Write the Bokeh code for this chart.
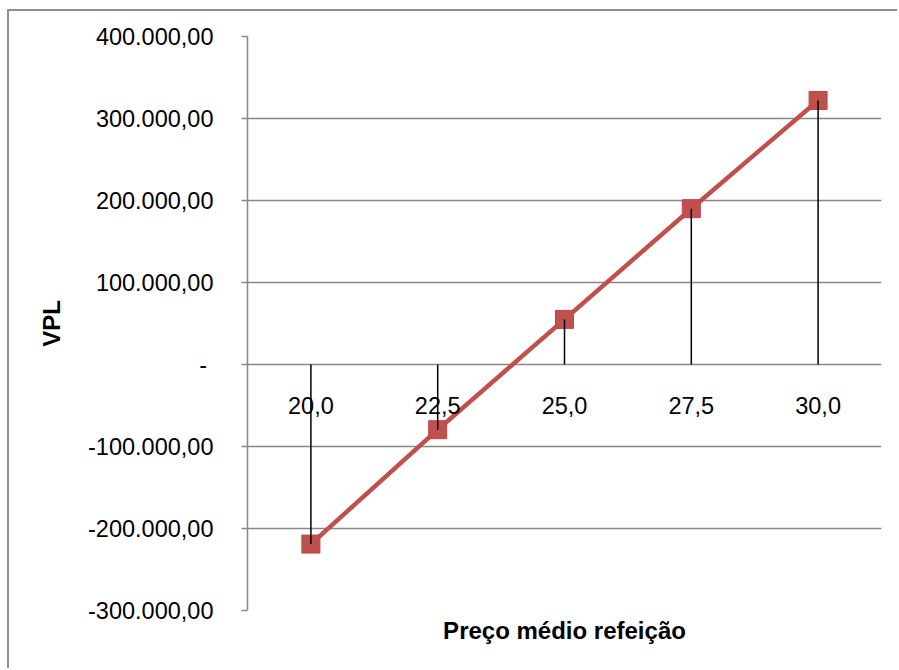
from bokeh.plotting import figure
from bokeh.models import FactorRange, Range1d, FixedTicker, ColumnDataSource, Title
from bokeh.core.properties import value
from bokeh.embed import file_html
from bokeh.resources import INLINE

# Data: NPV (VPL) for each average meal price
precos = ["20,0", "22,5", "25,0", "27,5", "30,0"]
vpl = [-219000, -79500, 55000, 190000, 322000]
y_ticks = [-300000, -200000, -100000, 0, 100000, 200000, 300000, 400000]

FONT = "Liberation Sans"
GRID = "#878787"
RED = "#C0504D"


def fmt_br(v):
    """Accounting-style label: 1.234,00 and '-' for zero."""
    if v == 0:
        return "-\u00a0"
    s = f"{v:,.2f}"
    return s.replace(",", "#").replace(".", ",").replace("#", ".")


src = ColumnDataSource(dict(preco=precos, vpl=vpl, zero=[0] * len(precos)))

p = figure(
    width=890, height=659,
    x_range=FactorRange(*precos),
    y_range=Range1d(-300000, 400000),
    output_backend="svg", toolbar_location=None,
    min_border_left=238, min_border_right=18,
    min_border_top=25, min_border_bottom=60,
)
p.styles = {
    "margin-left": "7px", "margin-top": "9px",
    "border-left": "2px solid #8e8e8e", "border-top": "2px solid #8e8e8e",
}
p.outline_line_color = None
p.background_fill_color = "white"
p.border_fill_color = "white"

# Horizontal gridlines only
p.xgrid.grid_line_color = None
p.ygrid.grid_line_color = GRID
p.ygrid.grid_line_width = 1.5

# Y axis
p.yaxis.ticker = FixedTicker(ticks=y_ticks)
p.yaxis.major_label_overrides = {t: fmt_br(t) for t in y_ticks}
p.yaxis.axis_line_color = GRID
p.yaxis.axis_line_width = 1.5
p.yaxis.major_tick_line_color = GRID
p.yaxis.major_tick_line_width = 1.5
p.yaxis.major_tick_out = 6
p.yaxis.major_tick_in = 0
p.yaxis.minor_tick_line_color = None
p.yaxis.major_label_text_font = FONT
p.yaxis.major_label_text_font_size = "23.5px"
p.yaxis.major_label_text_color = "black"
p.yaxis.major_label_standoff = 28
p.yaxis.axis_label = "VPL"
p.yaxis.axis_label_text_font = FONT
p.yaxis.axis_label_text_font_size = "24px"
p.yaxis.axis_label_text_font_style = "bold"
p.yaxis.axis_label_text_color = "black"
p.yaxis.axis_label_standoff = 20

# The category labels sit under the zero line, so the bottom axis is hidden
# and its title is drawn as a panel title below the frame.
p.xaxis.visible = False
p.add_layout(Title(text="Preço médio refeição", align="center",
                   text_font=FONT, text_font_size="24px",
                   text_font_style="bold", text_color="black",
                   standoff=9), "below")

# Series line and markers
p.line("preco", "vpl", source=src, line_color=RED, line_width=4.5)
p.scatter("preco", "vpl", source=src, marker="square", size=18,
          fill_color=RED, line_color="#B8474A", line_width=1)

# Drop lines from each point to the zero line
p.segment(x0="preco", y0="zero", x1="preco", y1="vpl", source=src,
          line_color="black", line_width=1.5)

# Category labels next to the zero axis
p.text(x="preco", y="zero", text="preco", source=src,
       text_font=value(FONT), text_font_size="23.5px", text_color="black",
       text_align="center", text_baseline="alphabetic", y_offset=41)

open("out.html", "w").write(file_html(p, INLINE))
